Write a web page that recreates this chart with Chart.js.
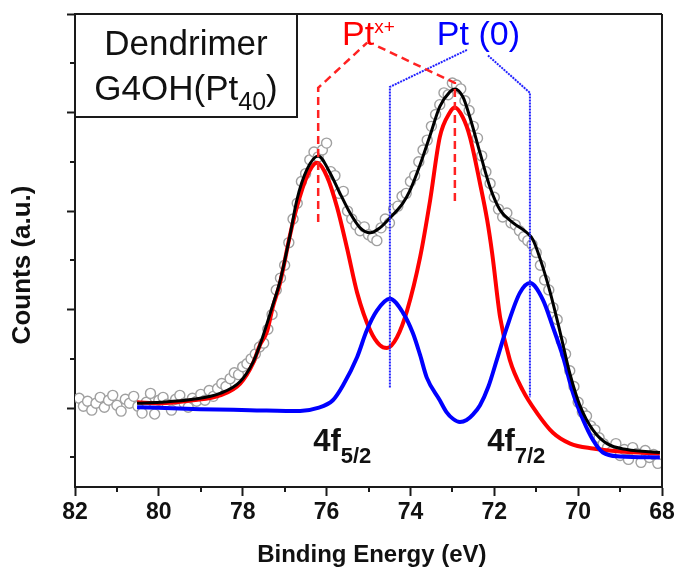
<!DOCTYPE html>
<html><head><meta charset="utf-8">
<script src="https://cdn.jsdelivr.net/npm/chart.js@4.4.1/dist/chart.umd.min.js"></script>
<style>html,body{margin:0;padding:0;background:#fff;}#wrap{width:678px;height:571px;}</style>
</head><body><div id="wrap"><canvas id="c" width="678" height="571"></canvas></div>
<script>
// ---- measured data (binding energy in eV, counts in arbitrary units) ----
const dataEnergy = [81.9,81.8,81.7,81.6,81.5,81.4,81.3,81.2,81.1,81.0,
 80.9,80.8,80.7,80.6,80.5,80.4,80.3,80.2,80.1,80.0,
 79.9,79.8,79.7,79.6,79.5,79.4,79.3,79.2,79.1,79.0,
 78.9,78.8,78.7,78.6,78.5,78.4,78.3,78.2,78.1,78.0,
 77.9,77.8,77.7,77.6,77.5,77.4,77.3,77.2,77.1,77.0,
 76.9,76.8,76.7,76.6,76.5,76.4,76.3,76.2,76.1,76.0,
 75.9,75.8,75.7,75.6,75.5,75.4,75.3,75.2,75.1,75.0,
 74.9,74.8,74.7,74.6,74.5,74.4,74.3,74.2,74.1,74.0,
 73.9,73.8,73.7,73.6,73.5,73.4,73.3,73.2,73.1,73.0,
 72.9,72.8,72.7,72.6,72.5,72.4,72.3,72.2,72.1,72.0,
 71.9,71.8,71.7,71.6,71.5,71.4,71.3,71.2,71.1,71.0,
 70.9,70.8,70.7,70.6,70.5,70.4,70.3,70.2,70.1,70.0,
 69.9,69.8,69.7,69.6,69.5,69.4,69.3,69.2,69.1,69.0,
 68.9,68.8,68.7,68.6,68.5,68.4,68.3,68.2,68.1];
const dataCounts = [0.10,0.02,0.07,-0.02,0.05,0.11,0.01,0.08,0.13,0.03,
 -0.03,0.09,0.05,0.12,0.02,-0.05,0.06,0.15,-0.06,0.08,
 0.11,0.04,-0.02,0.09,0.13,0.05,0.01,0.10,0.07,0.14,
 0.08,0.18,0.12,0.20,0.25,0.22,0.30,0.36,0.34,0.42,
 0.45,0.50,0.55,0.62,0.66,0.80,0.95,1.20,1.32,1.45,
 1.68,1.92,2.08,2.30,2.38,2.52,2.60,2.55,2.62,2.69,
 2.40,2.36,2.18,2.20,2.00,1.92,1.86,1.80,1.84,1.76,
 1.73,1.70,1.83,1.92,1.88,2.02,2.05,2.15,2.18,2.30,
 2.36,2.50,2.62,2.72,2.86,2.98,3.08,3.20,3.18,3.30,
 3.28,3.24,3.12,3.02,2.86,2.74,2.56,2.40,2.28,2.14,
 2.02,1.94,1.98,1.88,1.86,1.80,1.74,1.70,1.66,1.58,
 1.45,1.30,1.20,1.02,0.90,0.68,0.55,0.38,0.22,0.06,
 -0.04,-0.08,-0.18,-0.22,-0.30,-0.36,-0.40,-0.44,-0.36,-0.48,
 -0.42,-0.52,-0.40,-0.46,-0.55,-0.43,-0.50,-0.47,-0.56];

// ---- total fit (black) ----
const fitEnergy = [80.52,79.97,79.19,78.54,78.06,77.75,77.59,77.28,77.11,76.87,76.71,76.47,76.20,75.92,75.68,75.44,75.20,74.96,74.73,74.49,74.18,74.01,73.77,73.53,73.30,73.06,72.94,72.75,72.58,72.34,72.10,71.86,71.55,71.22,71.08,70.91,70.67,70.43,70.19,69.96,69.65,69.31,68.84,68.05];
const fitTotal  = [0.05,0.06,0.09,0.15,0.27,0.47,0.64,1.05,1.29,1.76,2.11,2.42,2.56,2.39,2.18,1.98,1.83,1.78,1.83,1.93,2.08,2.21,2.47,2.77,3.06,3.21,3.24,3.16,2.95,2.59,2.24,2.01,1.88,1.78,1.71,1.52,1.18,0.77,0.34,0.03,-0.22,-0.36,-0.42,-0.45];

// ---- Pt(x+) component (red) ----
const ptxEnergy = [80.52,79.97,79.19,78.54,78.06,77.75,77.59,77.42,77.28,77.11,76.87,76.71,76.47,76.23,75.99,75.75,75.51,75.27,74.96,74.73,74.56,74.32,74.08,73.77,73.53,73.30,73.06,72.94,72.75,72.58,72.34,72.17,72.05,71.86,71.63,71.32,70.98,70.60,70.19,69.65,69.00,68.05];
const ptxCounts = [0.06,0.05,0.08,0.13,0.25,0.46,0.64,0.78,1.03,1.27,1.76,2.04,2.35,2.49,2.35,2.04,1.62,1.17,0.79,0.64,0.61,0.72,0.99,1.53,2.11,2.75,3.00,3.05,2.95,2.75,2.28,1.91,1.57,0.92,0.49,0.18,-0.05,-0.25,-0.36,-0.41,-0.44,-0.46];

// ---- Pt(0) component (blue) ----
const pt0Energy = [80.52,79.02,77.83,76.63,76.23,75.85,75.61,75.27,75.04,74.80,74.49,74.18,73.94,73.77,73.61,73.30,73.14,72.98,72.82,72.66,72.50,72.34,72.14,71.94,71.70,71.39,71.15,70.84,70.60,70.36,70.12,69.88,69.65,69.41,69.00,68.05];
const pt0Counts = [0.01,-0.01,-0.02,-0.03,0.00,0.08,0.23,0.52,0.79,0.99,1.11,0.97,0.76,0.54,0.31,0.08,-0.04,-0.11,-0.14,-0.12,-0.06,0.03,0.22,0.49,0.82,1.17,1.27,1.10,0.82,0.52,0.15,-0.12,-0.32,-0.45,-0.49,-0.50];

// ---- guide lines to the peak labels [energy, counts] ----
const ptxGuideLeft  = [[76.20,1.89],[76.20,3.25],[75.03,3.71]];
const ptxGuideRight = [[74.77,3.67],[72.94,3.30],[72.94,2.06]];
const pt0GuideLeft  = [[74.49,0.21],[74.49,3.26],[72.63,3.64]];
const pt0GuideRight = [[72.15,3.58],[71.15,3.20],[71.15,0.11]];

// ---- label anchors [energy, counts] ----
const ptxLabelAt = [75.63,3.69];
const pt0LabelAt = [73.37,3.69];
const f52LabelAt = [76.32,-0.43];
const f72LabelAt = [72.17,-0.43];

// ---- ticks ----
const xMajorTicks = [82,80,78,76,74,72,70,68];
const xMinorTicks = [81,79,77,75,73,71,69];
const yMajorTicks = [0,1,2,3,4];
const yMinorTicks = [-0.5,0.5,1.5,2.5,3.5];

const FONT = '"Liberation Sans", Arial, Helvetica, sans-serif';
const AXIS = '#1a1a1a';
const toXY = (xs, ys) => xs.map((x, i) => ({x: x, y: ys[i]}));
const pairs = arr => arr.map(p => ({x: p[0], y: p[1]}));

function drawRuns(ctx, runs, x, y, align) {
  let w = 0;
  runs.forEach(r => { ctx.font = r.font; w += ctx.measureText(r.t).width; });
  let cx = align === 'center' ? x - w / 2 : x;
  ctx.textAlign = 'left'; ctx.textBaseline = 'alphabetic';
  runs.forEach(r => {
    ctx.font = r.font; ctx.fillStyle = r.color;
    ctx.fillText(r.t, cx, y + (r.dy || 0));
    cx += ctx.measureText(r.t).width;
  });
}

const decor = {
  id: 'decor',
  afterDraw(chart) {
    const ctx = chart.ctx, a = chart.chartArea;
    const xs = chart.scales.x, ys = chart.scales.y;
    ctx.save();
    ctx.strokeStyle = AXIS; ctx.lineWidth = 2;
    ctx.beginPath();
    ctx.moveTo(a.left - 1, a.top); ctx.lineTo(a.right, a.top);
    ctx.moveTo(a.right, a.top); ctx.lineTo(a.right, a.bottom + 1);
    xMinorTicks.forEach(v => { const p = Math.round(xs.getPixelForValue(v)); ctx.moveTo(p, a.bottom); ctx.lineTo(p, a.bottom + 5); });
    yMinorTicks.forEach(v => { const p = Math.round(ys.getPixelForValue(v)); ctx.moveTo(a.left, p); ctx.lineTo(a.left - 5, p); });
    ctx.stroke();
    // sample box
    ctx.lineWidth = 2;
    ctx.strokeRect(a.left, a.top, 222, 103);
    const big = '35px ' + FONT, sub = '25px ' + FONT;
    drawRuns(ctx, [{t: 'Dendrimer', font: big, color: '#111'}], a.left + 111, a.top + 41, 'center');
    drawRuns(ctx, [{t: 'G4OH(Pt', font: big, color: '#111'}, {t: '40', font: sub, color: '#111', dy: 10}, {t: ')', font: big, color: '#111'}], a.left + 111, a.top + 86, 'center');
    // peak labels
    const P = p => [xs.getPixelForValue(p[0]), ys.getPixelForValue(p[1])];
    let q = P(ptxLabelAt);
    drawRuns(ctx, [{t: 'Pt', font: '34px ' + FONT, color: '#ff0000'}, {t: 'x+', font: '19px ' + FONT, color: '#ff0000', dy: -12}], q[0], q[1], 'left');
    q = P(pt0LabelAt);
    drawRuns(ctx, [{t: 'Pt (0)', font: '34px ' + FONT, color: '#0000ff'}], q[0], q[1], 'left');
    q = P(f52LabelAt);
    drawRuns(ctx, [{t: '4f', font: 'bold 31px ' + FONT, color: '#111'}, {t: '5/2', font: 'bold 22px ' + FONT, color: '#111', dy: 12}], q[0], q[1], 'left');
    q = P(f72LabelAt);
    drawRuns(ctx, [{t: '4f', font: 'bold 31px ' + FONT, color: '#111'}, {t: '7/2', font: 'bold 22px ' + FONT, color: '#111', dy: 12}], q[0], q[1], 'left');
    ctx.restore();
  }
};

const guide = (pts, color, dash, w) => ({
  data: pairs(pts), showLine: true, borderColor: color, borderWidth: w, borderDash: dash,
  pointRadius: 0, tension: 0, fill: false, order: 0
});

new Chart(document.getElementById('c'), {
  type: 'scatter',
  data: {
    datasets: [
      guide(ptxGuideLeft, '#ff2222', [8, 5], 2.5),
      guide(ptxGuideRight, '#ff2222', [8, 5], 2.5),
      guide(pt0GuideLeft, '#2222ff', [2, 1], 2),
      guide(pt0GuideRight, '#2222ff', [2, 1], 2),
      {label: 'Fit', data: toXY(fitEnergy, fitTotal), showLine: true, borderColor: '#000', borderWidth: 3,
       pointRadius: 0, cubicInterpolationMode: 'monotone', order: 1},
      {label: 'Pt(0)', data: toXY(pt0Energy, pt0Counts), showLine: true, borderColor: '#0000ff', borderWidth: 4,
       pointRadius: 0, cubicInterpolationMode: 'monotone', order: 2},
      {label: 'Ptx+', data: toXY(ptxEnergy, ptxCounts), showLine: true, borderColor: '#ff0000', borderWidth: 4,
       pointRadius: 0, cubicInterpolationMode: 'monotone', order: 3},
      {label: 'Data', data: toXY(dataEnergy, dataCounts), showLine: false, pointStyle: 'circle', pointRadius: 5,
       pointBorderColor: '#a0a0a0', pointBackgroundColor: '#ffffff', pointBorderWidth: 1.4, order: 4}
    ]
  },
  options: {
    responsive: false, animation: false, devicePixelRatio: 1,
    layout: {padding: {top: 14, right: 16, left: 0, bottom: 0}},
    plugins: {legend: {display: false}, tooltip: {enabled: false}},
    scales: {
      x: {
        type: 'linear', min: 68, max: 82, reverse: true, position: 'bottom',
        afterFit(s) { s.height = 84; },
        afterBuildTicks(s) { s.ticks = xMajorTicks.map(v => ({value: v})); },
        ticks: {padding: 3, color: '#111', maxRotation: 0, autoSkip: false,
                font: {family: FONT, size: 23, weight: 'bold'}, callback: v => String(v)},
        grid: {display: true, drawOnChartArea: false, drawTicks: true, tickLength: 9, tickWidth: 2, tickColor: AXIS},
        border: {display: true, color: AXIS, width: 2},
        title: {display: true, text: ' Binding Energy (eV)', color: '#111',
                font: {family: FONT, size: 24, weight: 'bold'}, padding: {top: 0, bottom: 1}}
      },
      y: {
        type: 'linear', min: -0.8, max: 4, position: 'left',
        afterFit(s) { s.width = 75; },
        afterBuildTicks(s) { s.ticks = yMajorTicks.map(v => ({value: v})); },
        ticks: {display: false},
        grid: {display: true, drawOnChartArea: false, drawTicks: true, tickLength: 8, tickWidth: 2, tickColor: AXIS},
        border: {display: true, color: AXIS, width: 2},
        title: {display: true, text: 'Counts (a.u.)    ', color: '#111',
                font: {family: FONT, size: 26, weight: 'bold'}, padding: {top: 7, bottom: 0}}
      }
    }
  },
  plugins: [decor]
});
</script></body></html>
